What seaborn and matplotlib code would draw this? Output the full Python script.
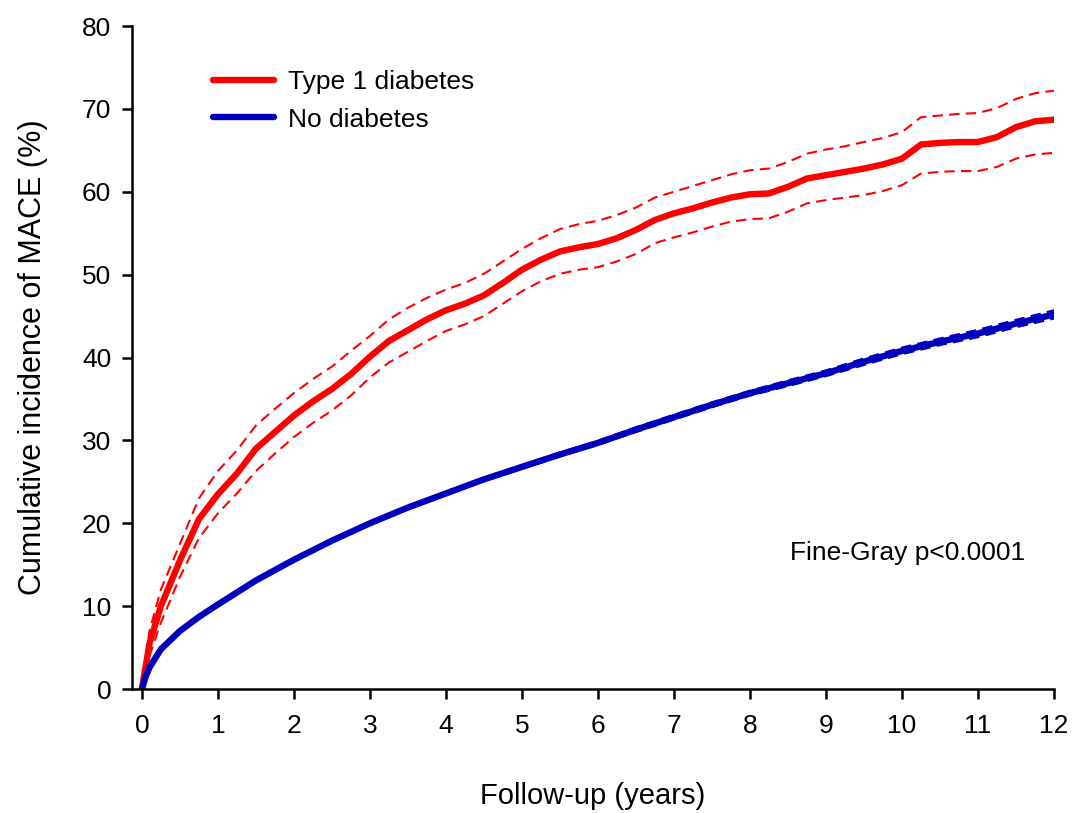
"""
Cumulative incidence of MACE: type 1 diabetes vs no diabetes (Fine-Gray).
"""

import pandas as pd
import matplotlib
matplotlib.use("Agg")
import matplotlib.pyplot as plt
import seaborn as sns

# --- DATA ---
T1D_YEARS = [0, 0.1, 0.25, 0.5, 0.75, 1.0, 1.25, 1.5, 1.75, 2.0, 2.25, 2.5, 2.75,
             3.0, 3.25, 3.5, 3.75, 4.0, 4.25, 4.5, 4.75, 5.0, 5.25, 5.5, 5.75,
             6.0, 6.25, 6.5, 6.75, 7.0, 7.25, 7.5, 7.75, 8.0, 8.25, 8.5, 8.75,
             9.0, 9.25, 9.5, 9.75, 10.0, 10.25, 10.5, 10.75, 11.0, 11.25, 11.5,
             11.75, 12.0]
T1D_CIF = [0, 5.5, 10.0, 15.5, 20.5, 23.5, 26.0, 29.0, 31.0, 33.0, 34.7, 36.2, 38.0,
           40.1, 42.0, 43.3, 44.6, 45.7, 46.5, 47.5, 49.0, 50.6, 51.8, 52.8, 53.3,
           53.7, 54.4, 55.4, 56.6, 57.4, 58.0, 58.7, 59.3, 59.7, 59.8, 60.6, 61.6,
           62.0, 62.4, 62.8, 63.3, 64.0, 65.7, 65.9, 66.0, 66.0, 66.6, 67.8,
           68.5, 68.7]
T1D_UPPER = [0, 7.0, 12.0, 17.5, 23.0, 26.3, 28.8, 31.8, 33.8, 35.7, 37.4, 38.9, 40.8,
             42.6, 44.6, 46.0, 47.2, 48.2, 49.0, 50.1, 51.6, 53.1, 54.4, 55.5, 56.1,
             56.5, 57.2, 58.1, 59.3, 60.0, 60.7, 61.4, 62.1, 62.6, 62.8, 63.6, 64.6,
             65.1, 65.5, 66.0, 66.5, 67.2, 69.0, 69.2, 69.4, 69.5, 70.1, 71.2,
             71.9, 72.2]
T1D_LOWER = [0, 4.0, 8.0, 13.5, 18.2, 21.2, 23.6, 26.3, 28.4, 30.4, 32.1, 33.6, 35.4,
             37.6, 39.4, 40.7, 42.0, 43.2, 44.0, 45.0, 46.5, 48.0, 49.2, 50.1, 50.6,
             50.9, 51.6, 52.5, 53.8, 54.5, 55.1, 55.8, 56.4, 56.7, 56.8, 57.6, 58.6,
             59.0, 59.3, 59.6, 60.1, 60.8, 62.2, 62.4, 62.5, 62.5, 63.0, 64.0,
             64.5, 64.7]

NODM_YEARS = [0, 0.05, 0.1, 0.25, 0.5, 0.75, 1.0, 1.5, 2.0, 2.5, 3.0, 3.5, 4.0, 4.5,
              5.0, 5.5, 6.0, 6.5, 7.0, 7.5, 8.0, 8.5, 9.0, 9.5, 10.0, 10.5, 11.0,
              11.5, 12.0]
NODM_CIF = [0, 1.5, 2.6, 4.8, 7.0, 8.7, 10.2, 13.1, 15.6, 17.9, 20.0, 21.9, 23.6, 25.3,
            26.8, 28.3, 29.7, 31.3, 32.8, 34.3, 35.7, 36.9, 38.1, 39.5, 40.8, 41.9, 42.9,
            44.1, 45.2]
NODM_UPPER = [0, 1.55, 2.7, 4.9, 7.1, 8.8, 10.3, 13.2, 15.75, 18.05, 20.15, 22.1, 23.8,
              25.5, 27.05, 28.55, 29.95, 31.6, 33.1, 34.6, 36.0, 37.25, 38.45, 39.9,
              41.2, 42.3, 43.35, 44.55, 45.7]
NODM_LOWER = [0, 1.45, 2.5, 4.7, 6.9, 8.6, 10.1, 13.0, 15.45, 17.75, 19.85, 21.7, 23.4,
              25.1, 26.55, 28.05, 29.45, 31.0, 32.5, 34.0, 35.4, 36.55, 37.75, 39.1,
              40.4, 41.5, 42.45, 43.65, 44.7]

GROUPS = ["Type 1 diabetes", "No diabetes"]
COLORS = {"Type 1 diabetes": "#FF0000", "No diabetes": "#0000BE"}

FONT = ["Liberation Sans", "Arial", "DejaVu Sans"]


def long_frame(years, cif, upper, lower, group):
    return pd.DataFrame({"Years": years, "CIF": cif, "Upper": upper,
                         "Lower": lower, "Group": group})


df = pd.concat([
    long_frame(T1D_YEARS, T1D_CIF, T1D_UPPER, T1D_LOWER, GROUPS[0]),
    long_frame(NODM_YEARS, NODM_CIF, NODM_UPPER, NODM_LOWER, GROUPS[1]),
], ignore_index=True)

sns.set_theme(style="ticks")
plt.rcParams["font.family"] = FONT
plt.rcParams.update({"text.color": "black", "axes.labelcolor": "black",
                     "xtick.color": "black", "ytick.color": "black"})

fig = plt.figure(figsize=(10.75, 8.13), dpi=100)
ax = fig.add_axes([0.1228, 0.1525, 0.8577, 0.8155])

# confidence bands (dashed)
for col in ["Upper", "Lower"]:
    sns.lineplot(data=df, x="Years", y=col, hue="Group", palette=COLORS,
                 estimator=None, sort=False, linewidth=1.5, linestyle=(0, (5, 3)),
                 legend=False, ax=ax)

# point estimates
sns.lineplot(data=df, x="Years", y="CIF", hue="Group", palette=COLORS,
             estimator=None, sort=False, linewidth=4.6, solid_capstyle="round",
             solid_joinstyle="round", legend=False, ax=ax)

ax.set_xlim(-0.13, 12)
ax.set_ylim(0, 80)
ax.set_xticks(range(0, 13))
ax.set_yticks(range(0, 81, 10))
sns.despine(ax=ax)
for side in ["left", "bottom"]:
    ax.spines[side].set_linewidth(1.8)
    ax.spines[side].set_color("black")
ax.tick_params(axis="both", direction="out", length=7, width=1.8,
               colors="black", labelsize=19)
ax.tick_params(axis="y", pad=8)
ax.tick_params(axis="x", pad=11)

ax.set_xlabel("Follow-up (years)", fontsize=21, labelpad=32)
ax.set_ylabel("Cumulative incidence of MACE (%)", fontsize=22, labelpad=24)

handles = [plt.Line2D([], [], color=COLORS[g], lw=4.6, solid_capstyle="round")
           for g in GROUPS]
ax.legend(handles, GROUPS, loc="upper left", bbox_to_anchor=(0.062, 0.969),
          frameon=False, fontsize=19, handlelength=2.3, handletextpad=0.55,
          labelspacing=0.5)

ax.text(10.07, 16.4, "Fine-Gray p<0.0001", ha="center", va="center", fontsize=19)

fig.savefig("out.png", dpi=100)
